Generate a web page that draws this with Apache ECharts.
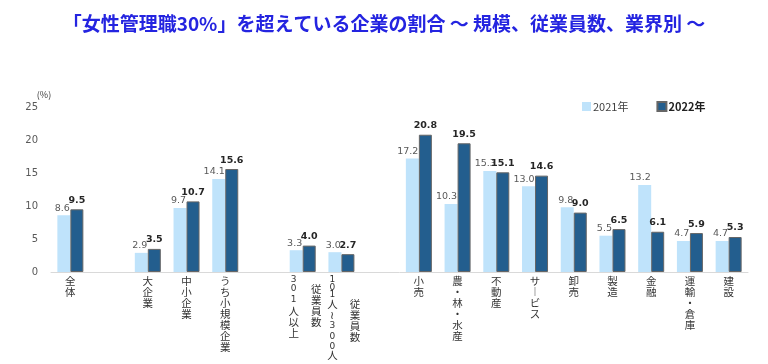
<!DOCTYPE html>
<html><head><meta charset="utf-8">
<script src="https://cdn.jsdelivr.net/npm/echarts@6/dist/echarts.min.js"></script>
<style>html,body{margin:0;padding:0;background:#fff}#c{width:768px;height:364px}</style>
</head><body><div id="c"></div>
<script>
const categories = ['全体','','大企業','中小企業','うち小規模企業','','301人以上','101人～300人','','小売','農・林・水産','不動産','サービス','卸売','製造','金融','運輸・倉庫','建設'];
const subLabels  = ['','','','','','','従業員数','従業員数','','','','','','','','','',''];
const values2021 = [8.6,null,2.9,9.7,14.1,null,3.3,3.0,null,17.2,10.3,15.3,13.0,9.8,5.5,13.2,4.7,4.7];
const values2022 = [9.5,null,3.5,10.7,15.6,null,4.0,2.7,null,20.8,19.5,15.1,14.6,9.0,6.5,6.1,5.9,5.3];
const yTicks = [0,5,10,15,20,25];
const seriesNames = ['2021年','2022年'];
const titleText = '「女性管理職30%」を超えている企業の割合 ～ 規模、従業員数、業界別 ～';

const vmap = {'ー':'︱','～':'≀'};
const subStart = {6:1, 7:3};
function isDigit(c){ return /[0-9]/.test(c); }
function fmt(value, idx){
  const chars = Array.from(value).map(c => vmap[c] || c);
  const sub = subLabels[idx] ? Array.from(subLabels[idx]) : null;
  if (!sub) {
    return chars.map(c => (isDigit(c) ? '{d|' : '{k|') + c + '}').join('\n');
  }
  const st = subStart[idx] || 0;
  const n = Math.max(chars.length, st + sub.length);
  const lines = [];
  for (let i = 0; i < n; i++) {
    const c = chars[i] || ' ';
    const has = i >= st && i - st < sub.length;
    const left = (isDigit(c) ? '{ad|' : '{ak|') + c + '}';
    const right = has ? '{b|' + sub[i - st] + '}' : (isDigit(c) ? '{bd| }' : '{b| }');
    lines.push(left + right);
  }
  return lines.join('\n');
}

const chart = echarts.init(document.getElementById('c'));
const numFont = 'DejaVu Sans';
const jpFont = '"Noto Sans CJK JP"';
const lab = '#333';
chart.setOption({
  animation: false,
  title: {
    text: titleText, left: 'center', top: 9,
    textStyle: {color: '#2424e0', fontSize: 19, fontWeight: 'bold', fontFamily: jpFont}
  },
  legend: {
    left: 577, top: 96, itemWidth: 9, itemHeight: 9, itemGap: 28, icon: 'rect',
    textStyle: {fontSize: 11, color: '#404040', fontFamily: jpFont, padding: [0,0,0,-3]},
    data: [{name: seriesNames[0]}, {name: seriesNames[1], textStyle: {fontWeight: 'bold', color: '#222'}}]
  },
  grid: {left: 51, right: 20, top: 107, bottom: 92, containLabel: false, outerBoundsMode: 'none'},
  xAxis: {
    type: 'category', data: categories,
    axisLine: {lineStyle: {color: '#d9d9d9', width: 1}},
    axisTick: {show: false},
    axisLabel: {
      interval: 0, margin: 4, color: lab, fontFamily: jpFont, formatter: fmt, hideOverlap: false,
      rich: {
        k: {fontSize: 10.5, lineHeight: 11, fontFamily: jpFont, color: lab},
        d: {fontSize: 9, lineHeight: 7.5, fontFamily: numFont, color: lab},
        ak: {fontSize: 10.5, lineHeight: 11, width: 27, align: 'center', fontFamily: jpFont, color: lab},
        ad: {fontSize: 9, lineHeight: 7.5, width: 27, align: 'center', fontFamily: numFont, color: lab},
        b: {fontSize: 10.5, lineHeight: 11, width: 18, align: 'center', fontFamily: jpFont, color: lab},
        bd: {fontSize: 6, lineHeight: 7.5, width: 18, align: 'center', fontFamily: numFont, color: lab}
      }
    }
  },
  yAxis: {
    type: 'value', min: yTicks[0], max: yTicks[yTicks.length-1], interval: 5,
    name: '(%)', nameLocation: 'end', nameGap: 8,
    nameTextStyle: {fontSize: 9, color: '#404040', fontFamily: jpFont, padding: [0, 14, 0, 0]},
    axisLine: {show: false}, axisTick: {show: false}, splitLine: {show: false},
    axisLabel: {margin: 13, color: '#595959', fontSize: 10, fontFamily: numFont}
  },
  series: [
    {
      name: seriesNames[0], type: 'bar', data: values2021, barWidth: 13, barGap: '0%',
      itemStyle: {color: '#bfe3fb'},
      label: {show: true, position: 'top', distance: 2, align: 'right', offset: [6, 0], color: '#595959', fontSize: 9.5, fontFamily: numFont,
        formatter: p => p.value == null ? '' : p.value.toFixed(1)}
    },
    {
      name: seriesNames[1], type: 'bar', data: values2022, barWidth: 13,
      itemStyle: {color: '#235e8e', borderColor: '#666', borderWidth: 1},
      label: {show: true, position: 'top', distance: 4, color: '#262626', fontSize: 9.5, fontWeight: 'bold', fontFamily: numFont,
        formatter: p => p.value == null ? '' : p.value.toFixed(1)}
    }
  ]
});
</script></body></html>
